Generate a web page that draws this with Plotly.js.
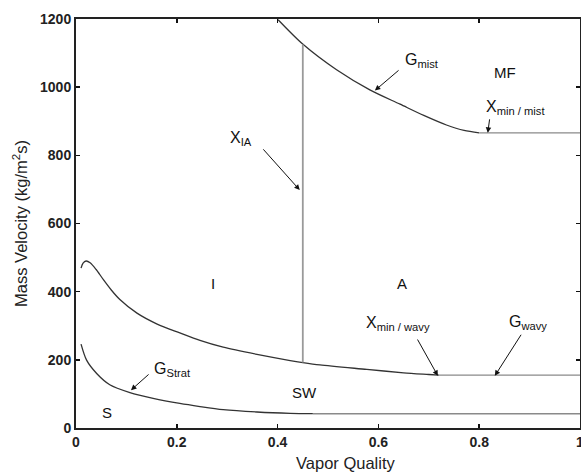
<!DOCTYPE html>
<html>
<head>
<meta charset="utf-8">
<script src="https://cdn.plot.ly/plotly-3.0.1.min.js"></script>
<style>html,body{margin:0;padding:0;background:#fff;}</style>
</head>
<body>
<div id="chart" style="width:581px;height:476px;"></div>
<script>
// G_wavy boundary (curved part, then plateau after X_min/wavy)
const wavyX = [0.010, 0.014, 0.020, 0.028, 0.040, 0.054, 0.070, 0.087, 0.121, 0.161, 0.206, 0.246, 0.292, 0.359, 0.425, 0.450, 0.484, 0.577, 0.650, 0.700, 0.720];
const wavyG = [469, 484, 490, 485, 465, 436, 405, 377, 337, 305, 279, 257, 237, 216, 198, 192, 185, 172, 162, 157, 155];
const wavyPlateauX = [0.720, 1.0];
const wavyPlateauG = [155, 155];
// G_strat boundary
const stratX = [0.010, 0.021, 0.041, 0.067, 0.107, 0.153, 0.206, 0.246, 0.292, 0.359, 0.425, 0.470];
const stratG = [246, 199, 160, 127, 104, 87, 72, 63, 54, 47, 43, 42];
const stratPlateauX = [0.470, 1.0];
const stratPlateauG = [42, 42];
// G_mist boundary
const mistX = [0.401, 0.451, 0.517, 0.583, 0.643, 0.690, 0.735, 0.770, 0.800];
const mistG = [1198, 1125, 1051, 992, 950, 917, 889, 873, 866];
const mistPlateauX = [0.800, 1.0];
const mistPlateauG = [866, 866];
// X_IA transition line
const xiaX = [0.45, 0.45];
const xiaG = [192, 1125];

const xTicks = [0, 0.2, 0.4, 0.6, 0.8, 1];
const xTickText = ['0', '0.2', '0.4', '0.6', '0.8', '1'];
const yTicks = [0, 200, 400, 600, 800, 1000, 1200];
const yTickText = ['0', '200', '400', '600', '800', '1000', '1200'];

const curve = {color: '#333', width: 1.3, shape: 'spline', smoothing: 0.8};
const flat = {color: '#8a8a8a', width: 1.4};
const traces = [
  {x: wavyX, y: wavyG, mode: 'lines', line: curve, hoverinfo: 'skip'},
  {x: wavyPlateauX, y: wavyPlateauG, mode: 'lines', line: flat, hoverinfo: 'skip'},
  {x: stratX, y: stratG, mode: 'lines', line: curve, hoverinfo: 'skip'},
  {x: stratPlateauX, y: stratPlateauG, mode: 'lines', line: flat, hoverinfo: 'skip'},
  {x: mistX, y: mistG, mode: 'lines', line: curve, hoverinfo: 'skip'},
  {x: mistPlateauX, y: mistPlateauG, mode: 'lines', line: flat, hoverinfo: 'skip'},
  {x: xiaX, y: xiaG, mode: 'lines', line: {color: '#9a9a9a', width: 1.8}, hoverinfo: 'skip'}
];

const FAM = 'Liberation Sans, Arial, sans-serif';
const F = {family: FAM, size: 16, color: '#111'};
function txt(x, y, t, size) {
  return {x: x, y: y, xref: 'x', yref: 'y', text: t, showarrow: false,
          font: Object.assign({}, F, size ? {size: size} : {}), xanchor: 'left', yanchor: 'middle'};
}
function arr(hx, hy, tx, ty) {
  return {x: hx, y: hy, ax: tx, ay: ty, xref: 'x', yref: 'y', axref: 'x', ayref: 'y',
          text: '', showarrow: true, arrowhead: 2, arrowsize: 1.1, arrowwidth: 1, arrowcolor: '#111'};
}
const annotations = [
  txt(0.302, 848, 'X<sub>IA</sub>'),
  arr(0.444, 698, 0.369, 822),
  txt(0.648, 1078, 'G<sub>mist</sub>'),
  arr(0.593, 990, 0.643, 1053),
  txt(0.826, 1042, 'MF', 15),
  txt(0.810, 940, 'X<sub>min / mist</sub>'),
  arr(0.817, 866, 0.821, 910),
  txt(0.264, 425, 'I', 15),
  txt(0.633, 425, 'A', 15),
  txt(0.572, 308, 'X<sub>min / wavy</sub>'),
  arr(0.718, 153, 0.676, 264),
  txt(0.856, 311, 'G<sub>wavy</sub>'),
  arr(0.831, 153, 0.885, 278),
  txt(0.150, 173, 'G<sub>Strat</sub>'),
  arr(0.109, 111, 0.147, 161),
  txt(0.424, 104, 'SW', 15),
  txt(0.047, 46, 'S', 15),
  {x: 0.534, y: -0.085, xref: 'paper', yref: 'paper', text: 'Vapor Quality', showarrow: false,
   font: {family: FAM, size: 16.5, color: '#222'}, xanchor: 'center', yanchor: 'middle'}
];

const layout = {
  width: 581, height: 476,
  margin: {l: 76, r: 1, t: 19, b: 48, pad: 0},
  paper_bgcolor: '#fff', plot_bgcolor: '#fff',
  showlegend: false,
  font: F,
  xaxis: {
    range: [0, 1], tickvals: xTicks, ticktext: xTickText,
    ticks: 'inside', ticklen: 4, tickwidth: 1.5, tickcolor: '#111',
    showline: true, linewidth: 2, linecolor: '#222', mirror: 'ticks',
    showgrid: false, zeroline: false, automargin: false, ticklabeloverflow: 'allow',
    tickfont: {family: FAM, size: 14, color: '#222', weight: 'bold'}
  },
  yaxis: {
    range: [0, 1200], tickvals: yTicks, ticktext: yTickText,
    ticks: 'inside', ticklen: 4, tickwidth: 1.5, tickcolor: '#111',
    showline: true, linewidth: 2, linecolor: '#222', mirror: 'ticks',
    showgrid: false, zeroline: false, automargin: false, ticklabeloverflow: 'allow',
    tickfont: {family: FAM, size: 14, color: '#222', weight: 'bold'},
    title: {text: 'Mass Velocity (kg/m<sup>2</sup>s)', font: {family: FAM, size: 16.5, color: '#222'}, standoff: 8}
  },
  annotations: annotations
};

Plotly.newPlot('chart', traces, layout, {staticPlot: true, displayModeBar: false});
</script>
</body>
</html>
